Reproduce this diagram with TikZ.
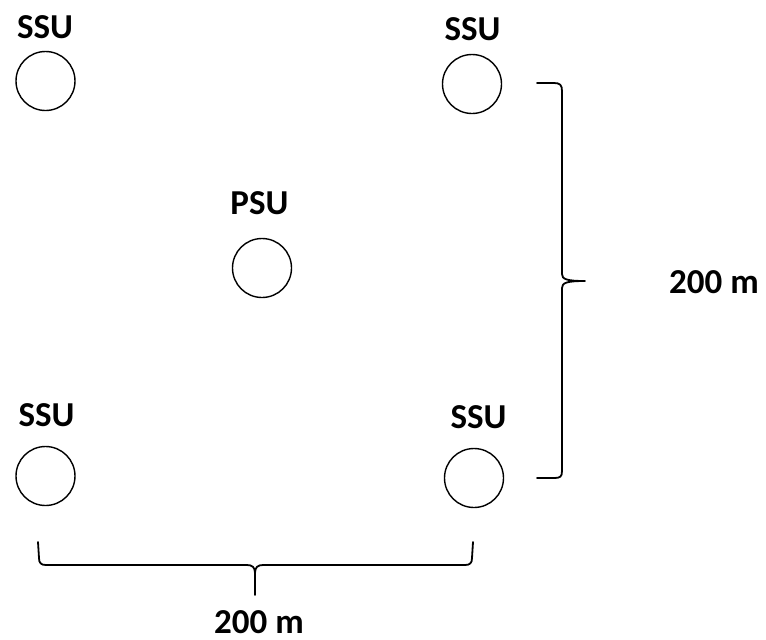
\documentclass[tikz,border=0pt]{standalone}
\usepackage{fontspec}
\setmainfont{Carlito}
\begin{document}
\begin{tikzpicture}[x=1pt,y=-1pt,
  unit/.style={circle,draw,line width=1.4pt,minimum size=59pt,inner sep=0pt},
  lbl/.style={font=\fontsize{35}{42}\selectfont\bfseries,inner sep=0pt,anchor=center},
  bracepath/.style={line width=1.8pt,line join=round,line cap=round}]
\useasboundingbox (0,0) rectangle (766,640);
% units
\node[unit] (tl) at (45.5,81) {};
\node[unit] (tr) at (472,84) {};
\node[unit] (psu) at (262,268) {};
\node[unit] (bl) at (45.5,476) {};
\node[unit] (br) at (474,478) {};
% labels
\node[lbl] (ltl) at (45,27.5) {SSU};
\node[lbl] (ltr) at (472.5,29.5) {SSU};
\node[lbl] (lpsu) at (259.5,203.5) {PSU};
\node[lbl] (lbl) at (46.5,415.5) {SSU};
\node[lbl] (lbr) at (478.5,417.5) {SSU};
\node[lbl] (lright) at (714,282.5) {200 m};
\node[lbl] (lbottom) at (259,622.5) {200 m};
% right brace
\coordinate (rt) at (537,83);
\coordinate (rtip) at (585,281);
\coordinate (rb) at (537,478);
\draw[bracepath] (rt) -- (554,83) .. controls (560,83) and (562,85) .. (562,91)
  -- (562,274) .. controls (562,279) and (566,281) .. (rtip)
  .. controls (566,281) and (562,283) .. (562,288)
  -- (562,471) .. controls (562,477) and (560,478) .. (554,478) -- (rb);
% bottom brace
\coordinate (bleft) at (38,542);
\coordinate (btip) at (255,595);
\coordinate (bright) at (473,542);
\draw[bracepath] (bleft) -- (39,558) .. controls (39,563) and (41,565) .. (46,565)
  -- (247,565) .. controls (252,565) and (255,567) .. (255,573) -- (btip);
\draw[bracepath] (bright) -- (472,558) .. controls (472,563) and (470,565) .. (465,565)
  -- (263,565) .. controls (258,565) and (255,567) .. (255,573);
\end{tikzpicture}
\end{document}
